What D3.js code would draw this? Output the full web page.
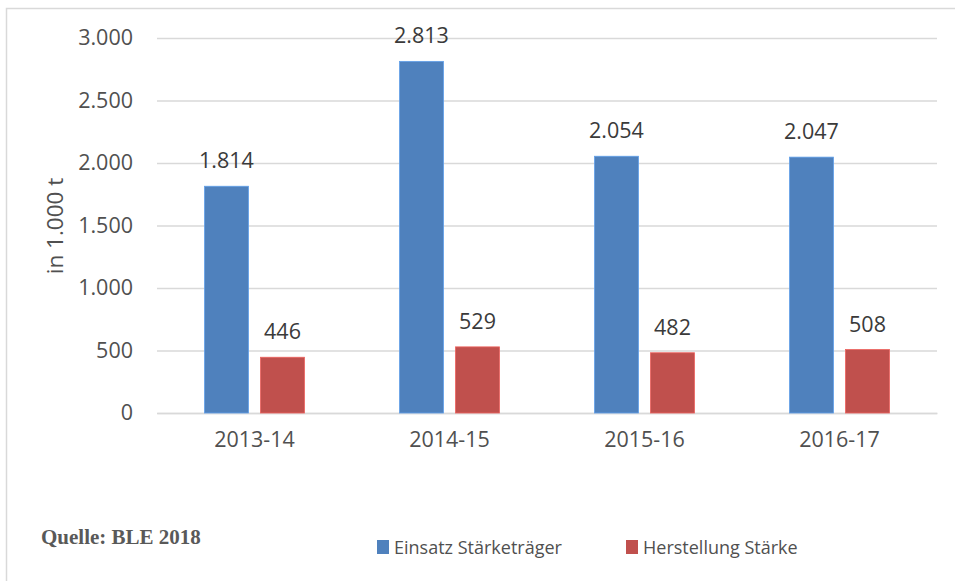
<!DOCTYPE html>
<html>
<head>
<meta charset="utf-8">
<script src="https://cdn.jsdelivr.net/npm/d3@7"></script>
<style>
  body { margin: 0; background: #fff; }
  svg { display: block; }
</style>
</head>
<body>
<div id="main"></div>
<script>
const years = ['2013-14', '2014-15', '2015-16', '2016-17'];
const seriesNames = ['Einsatz Stärketräger', 'Herstellung Stärke'];
const einsatz = [1814, 2813, 2054, 2047];
const herstellung = [446, 529, 482, 508];
const yTicks = [0, 500, 1000, 1500, 2000, 2500, 3000];
const colors = ['#4F81BD', '#C0504D'];

const width = 955, height = 581;
const fmt = v => d3.format(',')(v).replace(/,/g, '.');
const font = '"Open Sans", "Noto Sans", sans-serif';

const svg = d3.select('#main').append('svg')
  .attr('width', width).attr('height', height);

// frame
svg.append('rect')
  .attr('x', 6.5).attr('y', 8.5).attr('width', 960).attr('height', 600)
  .attr('fill', 'none').attr('stroke', '#d9d9d9').attr('stroke-width', 1.5);

const x = d3.scaleBand().domain(years).range([157, 937])
  .paddingInner(0.487).paddingOuter(0.2435);
const x1 = d3.scaleBand().domain([0, 1]).range([0, x.bandwidth()])
  .paddingInner(0.214);
const y = d3.scaleLinear().domain([0, 3000]).range([413, 38]);

// gridlines + tick labels via axis
const yAxis = d3.axisLeft(y).tickValues(yTicks).tickSize(-(937 - 157))
  .tickPadding(24).tickFormat(fmt);
const gy = svg.append('g').attr('transform', 'translate(157,0)').call(yAxis);
gy.select('.domain').remove();
gy.selectAll('.tick line').attr('stroke', '#d9d9d9').attr('stroke-width', 1.5);
gy.selectAll('.tick text').attr('fill', '#505050')
  .style('font-family', font).style('font-size', '21.5px');

// x axis labels
const xAxis = d3.axisBottom(x).tickSize(0).tickPadding(19);
const gx = svg.append('g').attr('transform', 'translate(0,413)').call(xAxis);
gx.select('.domain').attr('stroke', '#d9d9d9').attr('stroke-width', 1.5);
gx.selectAll('.tick text').attr('fill', '#505050')
  .style('font-family', font).style('font-size', '21.5px');

// bars
const series = [einsatz, herstellung];
series.forEach((vals, s) => {
  const g = svg.append('g');
  g.selectAll('rect').data(vals).join('rect')
    .attr('x', (d, i) => x(years[i]) + x1(s))
    .attr('y', d => y(d))
    .attr('width', x1.bandwidth())
    .attr('height', d => y(0) - y(d))
    .attr('fill', colors[s])
    .attr('stroke', d3.color(colors[s]).brighter(0.6))
    .attr('stroke-width', 0.8);
  g.selectAll('text').data(vals).join('text')
    .attr('x', (d, i) => x(years[i]) + x1(s) + x1.bandwidth() / 2)
    .attr('y', d => y(d) - 18)
    .attr('text-anchor', 'middle')
    .attr('fill', '#3a3a3a')
    .style('font-family', font).style('font-size', '21.5px')
    .text(d => fmt(d));
});

// y title
svg.append('text')
  .attr('transform', 'translate(63,226) rotate(-90)')
  .attr('text-anchor', 'middle')
  .attr('fill', '#505050')
  .style('font-family', font).style('font-size', '22.5px')
  .text('in 1.000 t');

// source
svg.append('text')
  .attr('x', 41).attr('y', 544)
  .attr('fill', '#595959')
  .style('font-family', '"Liberation Serif", "Times New Roman", serif')
  .style('font-weight', 'bold').style('font-size', '21px')
  .text('Quelle: BLE 2018');

// legend
const legendX = [377, 626];
seriesNames.forEach((name, s) => {
  svg.append('rect')
    .attr('x', legendX[s]).attr('y', 540).attr('width', 12).attr('height', 14)
    .attr('fill', colors[s]);
  svg.append('text')
    .attr('x', legendX[s] + 17).attr('y', 554)
    .attr('fill', '#505050')
    .style('font-family', font).style('font-size', '18px')
    .text(name);
});
</script>
</body>
</html>
